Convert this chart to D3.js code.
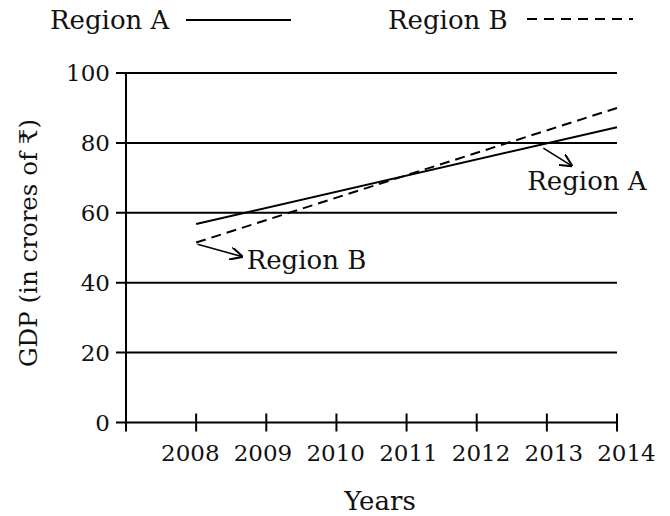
<!DOCTYPE html>
<html>
<head>
<meta charset="utf-8">
<script src="https://cdn.jsdelivr.net/npm/d3@7"></script>
<style>
  body { margin: 0; background: #fff; }
  svg { display: block; }
  text { font-family: "DejaVu Serif", serif; fill: #111; }
</style>
</head>
<body>
<svg width="670" height="516"></svg>
<script>
// data
const years = [2008, 2014];
const regionA = [56.8, 84.5];
const regionB = [51.5, 90];
const yTicks = [0, 20, 40, 60, 80, 100];
const xTicks = [2008, 2009, 2010, 2011, 2012, 2013, 2014];

const margin = {top: 73, right: 53, left: 126, bottom: 93.5};
const width = 670 - margin.left - margin.right;
const height = 516 - margin.top - margin.bottom;

const svg = d3.select('svg');
const g = svg.append('g')
  .attr('transform', 'translate(' + margin.left + ',' + margin.top + ')');

const x = d3.scaleLinear().domain([2007, 2014]).range([0, width]);
const y = d3.scaleLinear().domain([0, 100]).range([height, 0]);
// year labels in the source are spread a bit wider than the ticks
const xLabel = d3.scaleLinear().domain([2008, 2014]).range([64.3, 500.5]);

// horizontal grid lines with the tick stub on the left
g.selectAll('.grid')
  .data(yTicks)
  .enter()
  .append('line')
  .attr('x1', -10)
  .attr('x2', width)
  .attr('y1', d => y(d))
  .attr('y2', d => y(d))
  .attr('stroke', '#000')
  .attr('stroke-width', 2);

// y axis line, runs a little below zero
g.append('line')
  .attr('x1', 0).attr('x2', 0)
  .attr('y1', y(100)).attr('y2', y(0) + 9)
  .attr('stroke', '#000')
  .attr('stroke-width', 2);

// x ticks cross the axis
g.selectAll('.xtick')
  .data(xTicks)
  .enter()
  .append('line')
  .attr('x1', d => x(d)).attr('x2', d => x(d))
  .attr('y1', y(0) - 9).attr('y2', y(0) + 9)
  .attr('stroke', '#000')
  .attr('stroke-width', 2);

g.selectAll('.xlab')
  .data(xTicks)
  .enter()
  .append('text')
  .attr('x', d => xLabel(d))
  .attr('y', y(0) + 38)
  .attr('text-anchor', 'middle')
  .style('font-size', '23px')
  .text(d => d);

g.selectAll('.ylab')
  .data(yTicks)
  .enter()
  .append('text')
  .attr('x', -16)
  .attr('y', d => y(d))
  .attr('dy', '0.36em')
  .attr('text-anchor', 'end')
  .style('font-size', '23px')
  .text(d => d);

// axis titles
g.append('text')
  .attr('x', 380 - margin.left)
  .attr('y', 510 - margin.top)
  .attr('text-anchor', 'middle')
  .style('font-size', '26px')
  .text('Years');

svg.append('text')
  .attr('transform', 'translate(37,243) rotate(-90)')
  .attr('text-anchor', 'middle')
  .style('font-size', '24.5px')
  .text('GDP (in crores of \u20B9)');

// the two series
const line = d3.line()
  .x(d => x(d[0]))
  .y(d => y(d[1]));

g.append('path')
  .datum(d3.zip(years, regionA))
  .attr('d', line)
  .attr('fill', 'none')
  .attr('stroke', '#000')
  .attr('stroke-width', 2);

g.append('path')
  .datum(d3.zip(years, regionB))
  .attr('d', line)
  .attr('fill', 'none')
  .attr('stroke', '#000')
  .attr('stroke-width', 2)
  .attr('stroke-dasharray', '10,6');

// arrow callouts
svg.append('defs').append('marker')
  .attr('id', 'arr')
  .attr('viewBox', '0 0 10 10')
  .attr('refX', 9).attr('refY', 5)
  .attr('markerWidth', 8).attr('markerHeight', 8)
  .attr('orient', 'auto')
  .append('path')
  .attr('d', 'M0,0 L10,5 L0,10')
  .attr('fill', 'none')
  .attr('stroke', '#000')
  .attr('stroke-width', 1.6);

const callouts = [
  {from: [2008.02, 51], to: [2008.65, 47.5], label: 'Region B', lx: 2008.72, ly: 44},
  {from: [2012.95, 78.5], to: [2013.35, 73.5], label: 'Region A', lx: 2012.72, ly: 66.5}
];
callouts.forEach(c => {
  g.append('line')
    .attr('x1', x(c.from[0])).attr('y1', y(c.from[1]))
    .attr('x2', x(c.to[0])).attr('y2', y(c.to[1]))
    .attr('stroke', '#000')
    .attr('stroke-width', 1.6)
    .attr('marker-end', 'url(#arr)');
  g.append('text')
    .attr('x', x(c.lx))
    .attr('y', y(c.ly))
    .style('font-size', '26px')
    .text(c.label);
});

// legend at the top
const legend = svg.append('g');
legend.append('text').attr('x', 50).attr('y', 29).style('font-size', '26px').text('Region A');
legend.append('line')
  .attr('x1', 186).attr('x2', 291).attr('y1', 20).attr('y2', 20)
  .attr('stroke', '#000').attr('stroke-width', 2);
legend.append('text').attr('x', 388).attr('y', 29).style('font-size', '26px').text('Region B');
legend.append('line')
  .attr('x1', 527).attr('x2', 633).attr('y1', 19).attr('y2', 19)
  .attr('stroke', '#000').attr('stroke-width', 2)
  .attr('stroke-dasharray', '10,7');
</script>
</body>
</html>
